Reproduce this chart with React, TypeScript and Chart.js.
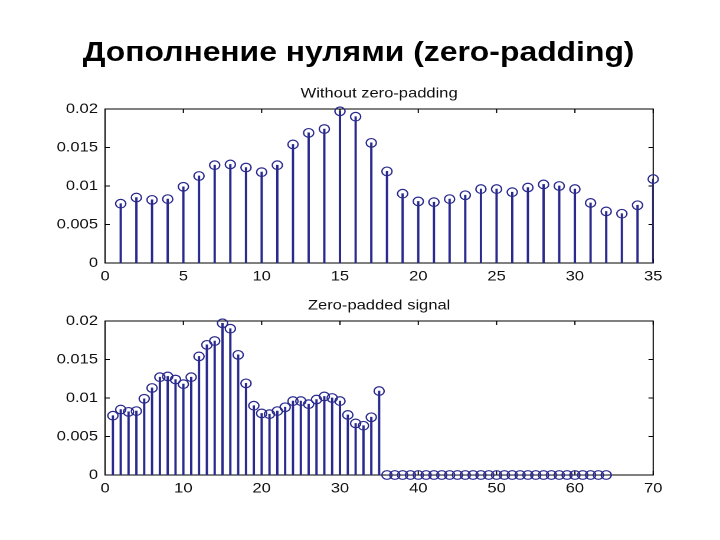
import React, { useEffect, useRef } from "react";
import { Chart, registerables } from "chart.js";

Chart.register(...registerables);

// ---- data ----
const mainTitle = "Дополнение нулями (zero-padding)";
const topTitle = "Without zero-padding";
const bottomTitle = "Zero-padded signal";

const topIndex = [
  1, 2, 3, 4, 5, 6, 7, 8, 9, 10, 11, 12, 13, 14, 15, 16, 17, 18, 19, 20, 21, 22, 23, 24, 25,
  26, 27, 28, 29, 30, 31, 32, 33, 34, 35,
];
const signal = [
  0.0077, 0.0085, 0.0082, 0.0083, 0.0099, 0.0113, 0.0127, 0.0128, 0.0124, 0.0118, 0.0127,
  0.0154, 0.0169, 0.0174, 0.0197, 0.019, 0.0156, 0.0119, 0.009, 0.008, 0.0079, 0.0083,
  0.0088, 0.0096, 0.0096, 0.0092, 0.0098, 0.0102, 0.01, 0.0096, 0.0078, 0.0067, 0.0064,
  0.0075, 0.0109,
];

const bottomIndex = [
  1, 2, 3, 4, 5, 6, 7, 8, 9, 10, 11, 12, 13, 14, 15, 16, 17, 18, 19, 20, 21, 22, 23, 24, 25,
  26, 27, 28, 29, 30, 31, 32, 33, 34, 35, 36, 37, 38, 39, 40, 41, 42, 43, 44, 45, 46, 47, 48,
  49, 50, 51, 52, 53, 54, 55, 56, 57, 58, 59, 60, 61, 62, 63, 64,
];
const paddedSignal = [
  0.0077, 0.0085, 0.0082, 0.0083, 0.0099, 0.0113, 0.0127, 0.0128, 0.0124, 0.0118, 0.0127,
  0.0154, 0.0169, 0.0174, 0.0197, 0.019, 0.0156, 0.0119, 0.009, 0.008, 0.0079, 0.0083,
  0.0088, 0.0096, 0.0096, 0.0092, 0.0098, 0.0102, 0.01, 0.0096, 0.0078, 0.0067, 0.0064,
  0.0075, 0.0109, 0, 0, 0, 0, 0, 0, 0, 0, 0, 0, 0, 0, 0, 0, 0, 0, 0, 0, 0, 0, 0, 0, 0, 0, 0,
  0, 0, 0, 0, 0,
];

const topXTicks = [0, 5, 10, 15, 20, 25, 30, 35];
const topXLabels = ["0", "5", "10", "15", "20", "25", "30", "35"];
const bottomXTicks = [0, 10, 20, 30, 40, 50, 60, 70];
const bottomXLabels = ["0", "10", "20", "30", "40", "50", "60", "70"];
const yTicks = [0, 0.005, 0.01, 0.015, 0.02];
const yLabels = ["0", "0.005", "0.01", "0.015", "0.02"];

const STEM = "#29298e";
const FONT = "'Liberation Sans', Arial, sans-serif";
const INNER_W = 610;
const SX = 720 / INNER_W;

const boxPlugin = {
  id: "matlabBox",
  beforeDatasetsDraw(chart: any) {
    const { ctx, chartArea } = chart;
    const { left, right, top, bottom } = chartArea;
    ctx.save();
    ctx.strokeStyle = "#000";
    ctx.lineWidth = 1;
    ctx.strokeRect(left, top, right - left, bottom - top);
    const tl = 4;
    ctx.beginPath();
    chart.scales.x.ticks.forEach((t: any) => {
      const px = chart.scales.x.getPixelForValue(t.value);
      ctx.moveTo(px, bottom);
      ctx.lineTo(px, bottom - tl);
      ctx.moveTo(px, top);
      ctx.lineTo(px, top + tl);
    });
    chart.scales.y.ticks.forEach((t: any) => {
      const py = chart.scales.y.getPixelForValue(t.value);
      ctx.moveTo(left, py);
      ctx.lineTo(left + tl, py);
      ctx.moveTo(right, py);
      ctx.lineTo(right - tl, py);
    });
    ctx.stroke();
    ctx.restore();
  },
};

function StemChart(props: {
  xs: number[];
  ys: number[];
  xMax: number;
  xTicks: number[];
  xLabels: string[];
  title: string;
  top: number;
}) {
  const ref = useRef<HTMLCanvasElement | null>(null);
  useEffect(() => {
    const pts = props.xs.map((x, i) => ({ x, y: props.ys[i] }));
    const chart = new Chart(ref.current as HTMLCanvasElement, {
      type: "bar",
      data: {
        datasets: [
          {
            type: "line",
            data: pts,
            showLine: false,
            pointStyle: "circle",
            pointRadius: 4.3,
            pointBorderWidth: 1.2,
            pointBorderColor: STEM,
            pointBackgroundColor: "rgba(0,0,0,0)",
            clip: false as any,
            order: 0,
          } as any,
          {
            type: "bar",
            data: pts,
            backgroundColor: STEM,
            borderWidth: 0,
            barThickness: 1.3,
            order: 1,
          } as any,
        ],
      },
      options: {
        animation: false,
        responsive: false,
        devicePixelRatio: 2,
        layout: { padding: { left: 0, right: 26.6, top: 0, bottom: 0 } },
        plugins: {
          legend: { display: false },
          tooltip: { enabled: false },
          title: {
            display: true,
            fullSize: false,
            text: props.title,
            color: "#111",
            font: { family: FONT, size: 14, weight: "normal", lineHeight: 1.2 },
            padding: { top: 7, bottom: 7.2 },
          },
        },
        scales: {
          x: {
            type: "linear",
            min: 0,
            max: props.xMax,
            offset: false,
            grid: { display: false, drawTicks: false },
            border: { display: false },
            afterBuildTicks: (s: any) => {
              s.ticks = props.xTicks.map((v) => ({ value: v }));
            },
            afterFit: (s: any) => {
              s.height = 25;
            },
            ticks: {
              padding: 5,
              color: "#111",
              font: { family: FONT, size: 14 },
              maxRotation: 0,
              autoSkip: false,
              callback: (v: any, i: number) => props.xLabels[i],
            },
          },
          y: {
            type: "linear",
            min: 0,
            max: 0.02,
            grid: { display: false, drawTicks: false },
            border: { display: false },
            afterBuildTicks: (s: any) => {
              s.ticks = yTicks.map((v) => ({ value: v }));
            },
            afterFit: (s: any) => {
              s.width = 69;
            },
            ticks: {
              padding: 6,
              color: "#111",
              font: { family: FONT, size: 14 },
              autoSkip: false,
              callback: (v: any, i: number) => yLabels[i],
            },
          },
        },
      },
      plugins: [boxPlugin],
    } as any);
    return () => chart.destroy();
  }, []);
  return (
    <canvas
      ref={ref}
      width={560}
      height={210}
      style={{ position: "absolute", left: 20, top: props.top, width: 560, height: 210 }}
    />
  );
}

export default function App() {
  return (
    <div style={{ position: "absolute", left: 0, top: 0, width: 720, height: 540, background: "#fff", overflow: "hidden" }}>
      <div
        style={{
          position: "absolute",
          left: 0,
          top: 0,
          width: INNER_W,
          height: 540,
          transform: `scaleX(${SX})`,
          transformOrigin: "0 0",
        }}
      >
        <div
          style={{
            position: "absolute",
            left: 0,
            top: 35.7,
            width: 607.6,
            textAlign: "center",
            fontFamily: FONT,
            fontWeight: "bold",
            fontSize: 27,
            lineHeight: "32px",
            color: "#000",
            whiteSpace: "nowrap",
          }}
        >
          {mainTitle}
        </div>
        <StemChart xs={topIndex} ys={signal} xMax={35} xTicks={topXTicks} xLabels={topXLabels} title={topTitle} top={78} />
        <StemChart xs={bottomIndex} ys={paddedSignal} xMax={70} xTicks={bottomXTicks} xLabels={bottomXLabels} title={bottomTitle} top={290} />
      </div>
    </div>
  );
}
